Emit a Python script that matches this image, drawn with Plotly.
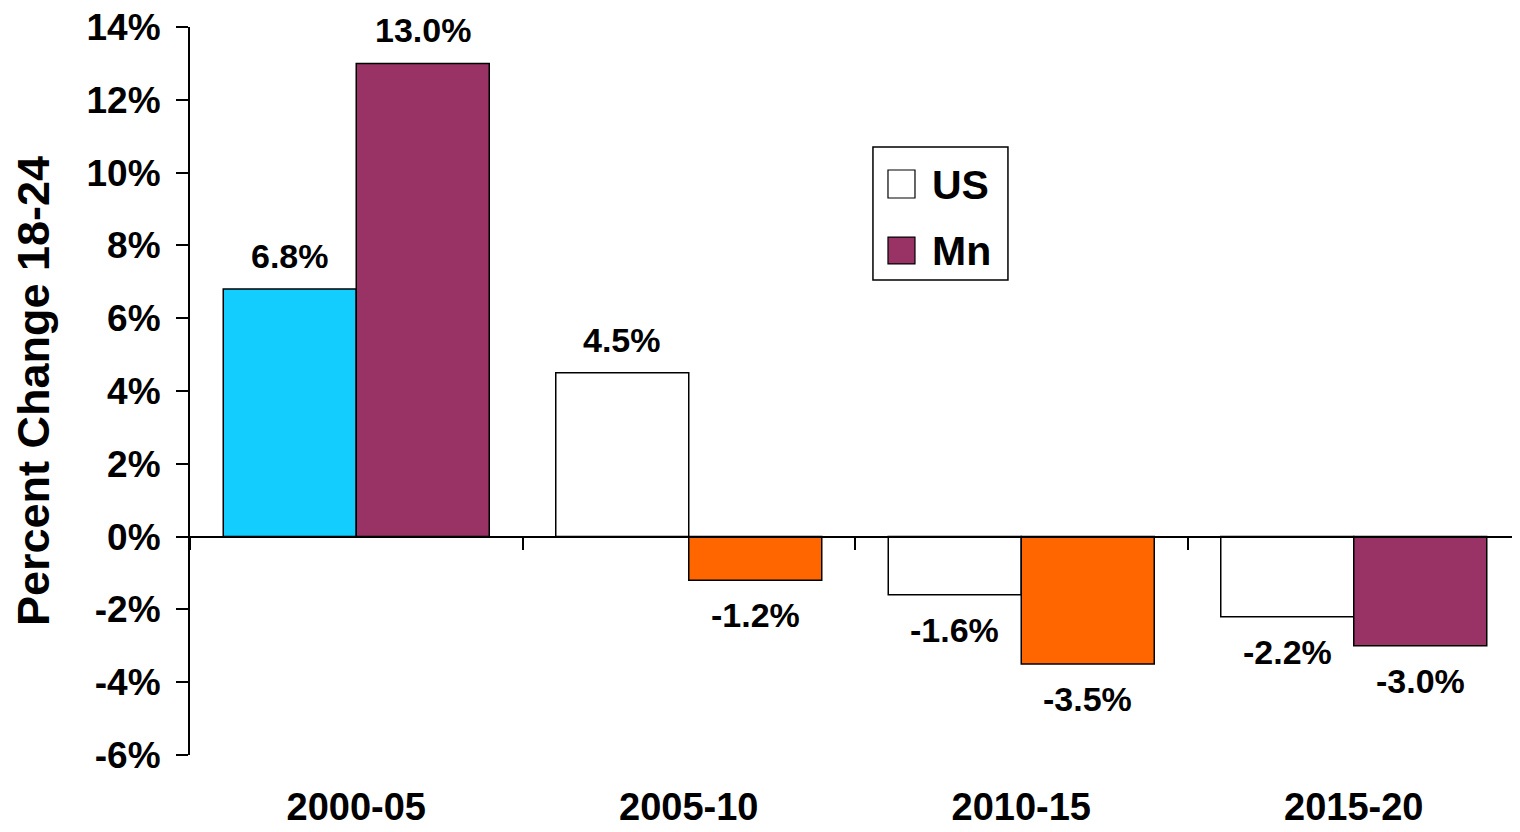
import plotly.graph_objects as go

periods = ["2000-05", "2005-10", "2010-15", "2015-20"]
us_values = [6.8, 4.5, -1.6, -2.2]
mn_values = [13.0, -1.2, -3.5, -3.0]
us_colors = ["#13CDFF", "#FFFFFF", "#FFFFFF", "#FFFFFF"]
mn_colors = ["#993366", "#FF6600", "#FF6600", "#993366"]
y_ticks = [-6, -4, -2, 0, 2, 4, 6, 8, 10, 12, 14]
y_ticktext = [f"{v}%" for v in y_ticks]

FONT = "Liberation Sans, Arial, sans-serif"

fig = go.Figure()
fig.add_trace(go.Bar(
    x=periods, y=us_values, name="US",
    marker=dict(color=us_colors, line=dict(color="black", width=1.5)),
    hoverinfo="skip", showlegend=False,
))
fig.add_trace(go.Bar(
    x=periods, y=mn_values, name="Mn",
    marker=dict(color=mn_colors, line=dict(color="black", width=1.5)),
    hoverinfo="skip", showlegend=False,
))
# invisible helper trace so the zero-line axis knows the categories
fig.add_trace(go.Scatter(
    x=periods, y=[0] * len(periods), xaxis="x2", mode="markers",
    marker=dict(opacity=0), hoverinfo="skip", showlegend=False,
))

annotations = []
for vals, shift in ((us_values, -66.5), (mn_values, 66.5)):
    for p, v in zip(periods, vals):
        annotations.append(dict(
            x=p, y=v, xref="x", yref="y", text=f"{v:.1f}%", showarrow=False,
            xshift=shift, yshift=33 if v >= 0 else -35,
            font=dict(family=FONT, size=34, color="black", weight="bold"),
        ))

# legend (drawn in paper space)
leg_font = dict(family=FONT, size=41, color="black", weight="bold")
annotations += [
    dict(x=0.5564, y=0.783, xref="paper", yref="paper", text="US", showarrow=False,
         xanchor="left", yanchor="middle", font=leg_font),
    dict(x=0.5564, y=0.6923, xref="paper", yref="paper", text="Mn", showarrow=False,
         xanchor="left", yanchor="middle", font=leg_font),
]
shapes = [
    dict(type="rect", xref="paper", yref="paper", x0=0.5135, x1=0.615, y0=0.6525, y1=0.8352,
         line=dict(color="black", width=1.5), fillcolor="white", layer="below"),
    dict(type="rect", xref="paper", yref="paper", x0=0.5248, x1=0.5451, y0=0.7651, y1=0.8036,
         line=dict(color="black", width=1.2), fillcolor=us_colors[1]),
    dict(type="rect", xref="paper", yref="paper", x0=0.5248, x1=0.5451, y0=0.6745, y1=0.7115,
         line=dict(color="black", width=1.2), fillcolor=mn_colors[0]),
]

fig.update_layout(
    width=1520, height=832,
    margin=dict(l=182, r=8, t=19, b=85, autoexpand=False),
    paper_bgcolor="white", plot_bgcolor="white",
    barmode="group", bargap=0.2, bargroupgap=0,
    annotations=annotations, shapes=shapes,
    font=dict(family=FONT, color="black"),
    xaxis=dict(
        type="category", categoryorder="array", categoryarray=periods,
        showline=False, ticks="", showgrid=False, zeroline=False, automargin=False,
        tickfont=dict(family=FONT, size=38, color="black", weight="bold"),
        ticklabelstandoff=26, ticklabeloverflow="allow",
    ),
    xaxis2=dict(
        type="category", categoryorder="array", categoryarray=periods,
        overlaying="x", matches="x", anchor="free", position=0.3,
        showline=True, linecolor="black", linewidth=2,
        ticks="outside", tickson="boundaries", ticklen=12, tickwidth=2, tickcolor="black",
        showticklabels=False, showgrid=False, zeroline=False, automargin=False,
    ),
    yaxis=dict(
        range=[-6, 14], tickmode="array", tickvals=y_ticks, ticktext=y_ticktext,
        showline=True, linecolor="black", linewidth=2,
        ticks="outside", ticklen=12, tickwidth=2, tickcolor="black",
        ticklabelstandoff=8, ticklabeloverflow="allow", automargin=False,
        showgrid=False, zeroline=False,
        tickfont=dict(family=FONT, size=37, color="black", weight="bold"),
        title=dict(text="Percent Change 18-24", standoff=24,
                   font=dict(family=FONT, size=45, color="black", weight="bold")),
    ),
)

fig.write_html("out.html")
